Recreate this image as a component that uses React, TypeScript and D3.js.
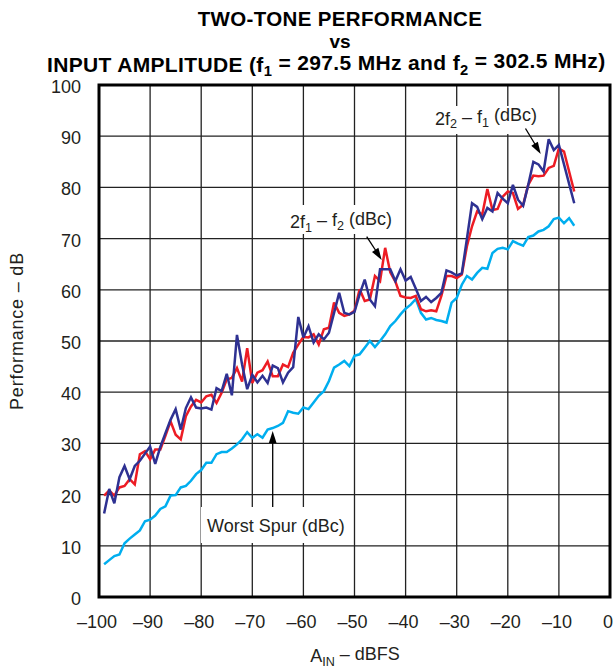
import React from 'react';
import * as d3 from 'd3';

// Input amplitude sample points (dBFS)
const ampIn = [
  -99, -98, -97, -96, -95, -94, -93, -92, -91, -90,
  -89, -88, -87, -86, -85, -84, -83, -82, -81, -80,
  -79, -78, -77, -76, -75, -74, -73, -72, -71, -70,
  -69, -68, -67, -66, -65, -64, -63, -62, -61, -60,
  -59, -58, -57, -56, -55, -54, -53, -52, -51, -50,
  -49, -48, -47, -46, -45, -44, -43, -42, -41, -40,
  -39, -38, -37, -36, -35, -34, -33, -32, -31, -30,
  -29, -28, -27, -26, -25, -24, -23, -22, -21, -20,
  -19, -18, -17, -16, -15, -14, -13, -12, -11, -10,
  -9, -8, -7,
];

// 2f2 - f1 (dBc), navy
const imd2f2f1 = [
  16.3, 21.1, 18.3, 23.4, 25.6, 23.0, 25.6, 26.6, 28.0, 29.4,
  26.0, 29.3, 32.0, 34.6, 36.7, 32.7, 36.9, 39.0, 37.0, 36.8,
  37.0, 36.6, 40.8, 40.2, 43.6, 39.4, 51.2, 45.4, 40.6, 43.4,
  41.9, 43.2, 41.8, 45.2, 44.7, 41.9, 43.8, 44.9, 54.7, 50.7,
  52.9, 49.7, 51.3, 50.3, 51.6, 55.5, 59.4, 55.5, 55.2, 55.7,
  59.1, 62.0, 58.1, 56.8, 64.0, 64.0, 64.0, 61.7, 64.0, 61.8,
  62.5, 60.2, 57.8, 58.6, 57.6, 58.4, 59.4, 63.8, 63.4, 62.8,
  63.2, 70.0, 76.9, 76.2, 73.8, 76.0, 75.3, 78.9, 77.8, 76.9,
  80.5, 77.6, 76.4, 80.5, 85.0, 84.5, 83.1, 89.4, 87.3, 88.3,
  84.5, 80.7, 76.9,
];

// 2f1 - f2 (dBc), red
const imd2f1f2 = [
  19.8, 20.8, 19.8, 21.4, 21.7, 23.0, 22.0, 27.9, 28.5, 26.9,
  28.8, 28.8, 31.5, 34.3, 31.7, 30.8, 35.3, 37.2, 38.5, 38.0,
  39.2, 39.5, 37.9, 39.9, 42.5, 42.8, 44.7, 42.1, 48.6, 41.8,
  43.8, 44.3, 46.0, 43.1, 43.1, 45.4, 44.9, 47.7, 49.3, 50.8,
  50.7, 51.3, 49.3, 52.3, 52.6, 57.5, 55.5, 54.9, 55.2, 55.9,
  60.1, 57.8, 58.1, 62.7, 61.7, 68.2, 63.4, 61.6, 58.8, 58.5,
  58.4, 58.8, 56.2, 55.8, 56.0, 55.8, 58.8, 62.7, 62.7, 62.3,
  63.0, 68.5, 72.4, 75.3, 74.7, 79.7, 75.6, 75.8, 78.2, 79.2,
  78.9, 75.8, 76.6, 80.5, 82.3, 82.2, 82.3, 83.8, 84.2, 87.6,
  87.0, 83.1, 79.2,
];

// Worst spur (dBc), cyan
const worstSpur = [
  6.4, 7.2, 8.0, 8.3, 10.5, 11.4, 12.2, 13.0, 14.8, 15.1,
  15.9, 17.2, 17.7, 19.8, 19.9, 21.4, 21.7, 22.7, 24.0, 24.8,
  26.2, 26.2, 27.9, 28.3, 28.3, 29.0, 29.8, 30.8, 32.2, 31.1,
  31.8, 31.1, 32.7, 33.0, 33.4, 34.0, 36.3, 36.0, 35.8, 37.0,
  36.7, 38.0, 39.3, 40.2, 42.2, 44.8, 45.4, 46.1, 45.1, 47.1,
  47.4, 48.7, 50.0, 48.8, 50.0, 51.3, 52.9, 53.9, 55.2, 56.3,
  57.1, 58.2, 55.5, 54.2, 54.5, 54.1, 53.9, 53.6, 57.5, 58.4,
  61.0, 62.7, 62.0, 63.3, 64.3, 64.1, 67.2, 68.0, 68.2, 67.9,
  69.5, 69.0, 68.6, 70.3, 70.6, 71.4, 71.7, 72.4, 73.8, 74.1,
  73.0, 74.0, 72.5,
];

const xTicks = [-100, -90, -80, -70, -60, -50, -40, -30, -20, -10, 0];
const yTicks = [0, 10, 20, 30, 40, 50, 60, 70, 80, 90, 100];

const FONT = '"Liberation Sans", Arial, Helvetica, sans-serif';
const INK = '#231f20';

// Triangle arrowhead with its tip at (x2, y2)
function arrowHead(x1: number, y1: number, x2: number, y2: number) {
  const a = Math.atan2(y2 - y1, x2 - x1);
  const len = 12, half = 3.8;
  const bx = x2 - len * Math.cos(a), by = y2 - len * Math.sin(a);
  const px = -Math.sin(a) * half, py = Math.cos(a) * half;
  return `${x2},${y2} ${bx + px},${by + py} ${bx - px},${by - py}`;
}

const App = () => {
  // Plot frame in page pixels
  const left = 99, right = 610, top = 85, bottom = 597;

  const x = d3.scaleLinear().domain([-100, 0]).range([left, right]);
  const y = d3.scaleLinear().domain([0, 100]).range([bottom, top]);

  const line = d3.line<number>()
    .x((_, i) => x(ampIn[i]))
    .y(d => y(d));

  const series = [
    { values: worstSpur, color: '#00aeef' },
    { values: imd2f1f2, color: '#ed1c24' },
    { values: imd2f2f1, color: '#2e3192' },
  ];

  // subscript; the next tspan moves the baseline back up
  const sub = (t: string) => (
    <tspan fontSize="0.7em" dy="0.3em">{t}</tspan>
  );

  return (
    <svg width={616} height={669} style={{ position: 'absolute', left: 0, top: 0 }} fontFamily={FONT}>
      <rect width={616} height={669} fill="#fff" />

      {/* Title */}
      <g fontWeight="bold" fill="#000">
        <text x={340} y={26} textAnchor="middle" fontSize={20.5} letterSpacing={0.35}>TWO-TONE PERFORMANCE</text>
        <text x={340} y={48} textAnchor="middle" fontSize={19}>vs</text>
        <text x={47} y={72} fontSize={21} letterSpacing={0.35}>
          INPUT AMPLITUDE (f{sub('1')}<tspan dy="-0.3em"> = 297.5 MHz and f</tspan>{sub('2')}<tspan dy="-0.3em"> = 302.5 MHz)</tspan>
        </text>
      </g>

      {/* Grid */}
      <g stroke="#222" strokeWidth={1.3}>
        {xTicks.slice(1, -1).map(t => (
          <line key={'gx' + t} x1={x(t)} x2={x(t)} y1={top} y2={bottom} />
        ))}
        {yTicks.slice(1, -1).map(t => (
          <line key={'gy' + t} x1={left} x2={right} y1={y(t)} y2={y(t)} />
        ))}
      </g>

      {/* White boxes behind the callout labels */}
      <rect x={430} y={106} width={115} height={28} fill="#fff" />
      <rect x={285} y={205} width={112} height={29} fill="#fff" />
      <rect x={201} y={507} width={152} height={36} fill="#fff" />

      {/* Data lines */}
      {series.map((s, i) => (
        <path key={i} d={line(s.values) || ''} fill="none" stroke={s.color}
          strokeWidth={2.5} strokeLinejoin="miter" strokeMiterlimit={3} />
      ))}

      {/* Frame */}
      <rect x={left} y={top} width={right - left} height={bottom - top}
        fill="none" stroke="#000" strokeWidth={3} />

      {/* Tick labels */}
      <g fontSize={18} fill={INK}>
        {yTicks.map(t => (
          <text key={'ly' + t} x={81} y={y(t) + 8} textAnchor="end">{t}</text>
        ))}
        {xTicks.map(t => (
          <text key={'lx' + t} x={x(t) - 2} y={628} textAnchor="middle">
            {t < 0 ? '\u2013' + Math.abs(t) : t}
          </text>
        ))}
      </g>

      {/* Axis titles */}
      <text fontSize={18} fill={INK} x={355} y={662} textAnchor="middle">
        A{sub('IN')}<tspan dy="-0.3em"> – dBFS</tspan>
      </text>
      <text fontSize={18} fill={INK} letterSpacing={0.8} textAnchor="middle"
        transform="translate(23,331) rotate(-90)">Performance – dB</text>

      {/* Callouts */}
      <g fontSize={18} fill={INK}>
        <text x={435} y={124.5}>2f{sub('2')}<tspan dy="-0.3em"> – f</tspan>{sub('1')}<tspan dy="-0.3em"> (dBc)</tspan></text>
        <text x={290} y={228}>2f{sub('1')}<tspan dy="-0.3em"> – f</tspan>{sub('2')}<tspan dy="-0.3em"> (dBc)</tspan></text>
        <text x={207} y={531.5}>Worst Spur (dBc)</text>
      </g>

      {/* Arrows */}
      <g stroke="#000" strokeWidth={1.3} fill="#000">
        <line x1={525.5} y1={128.5} x2={537} y2={147.5} />
        <polygon points={arrowHead(525.5, 128.5, 540.7, 154)} stroke="none" />
        <line x1={366.7} y1={236.7} x2={378} y2={254} />
        <polygon points={arrowHead(366.7, 236.7, 381.7, 260)} stroke="none" />
        <line x1={272.7} y1={507} x2={272.7} y2={440} />
        <polygon points={arrowHead(272.7, 507, 272.7, 431)} stroke="none" />
      </g>
    </svg>
  );
};

export default App;
